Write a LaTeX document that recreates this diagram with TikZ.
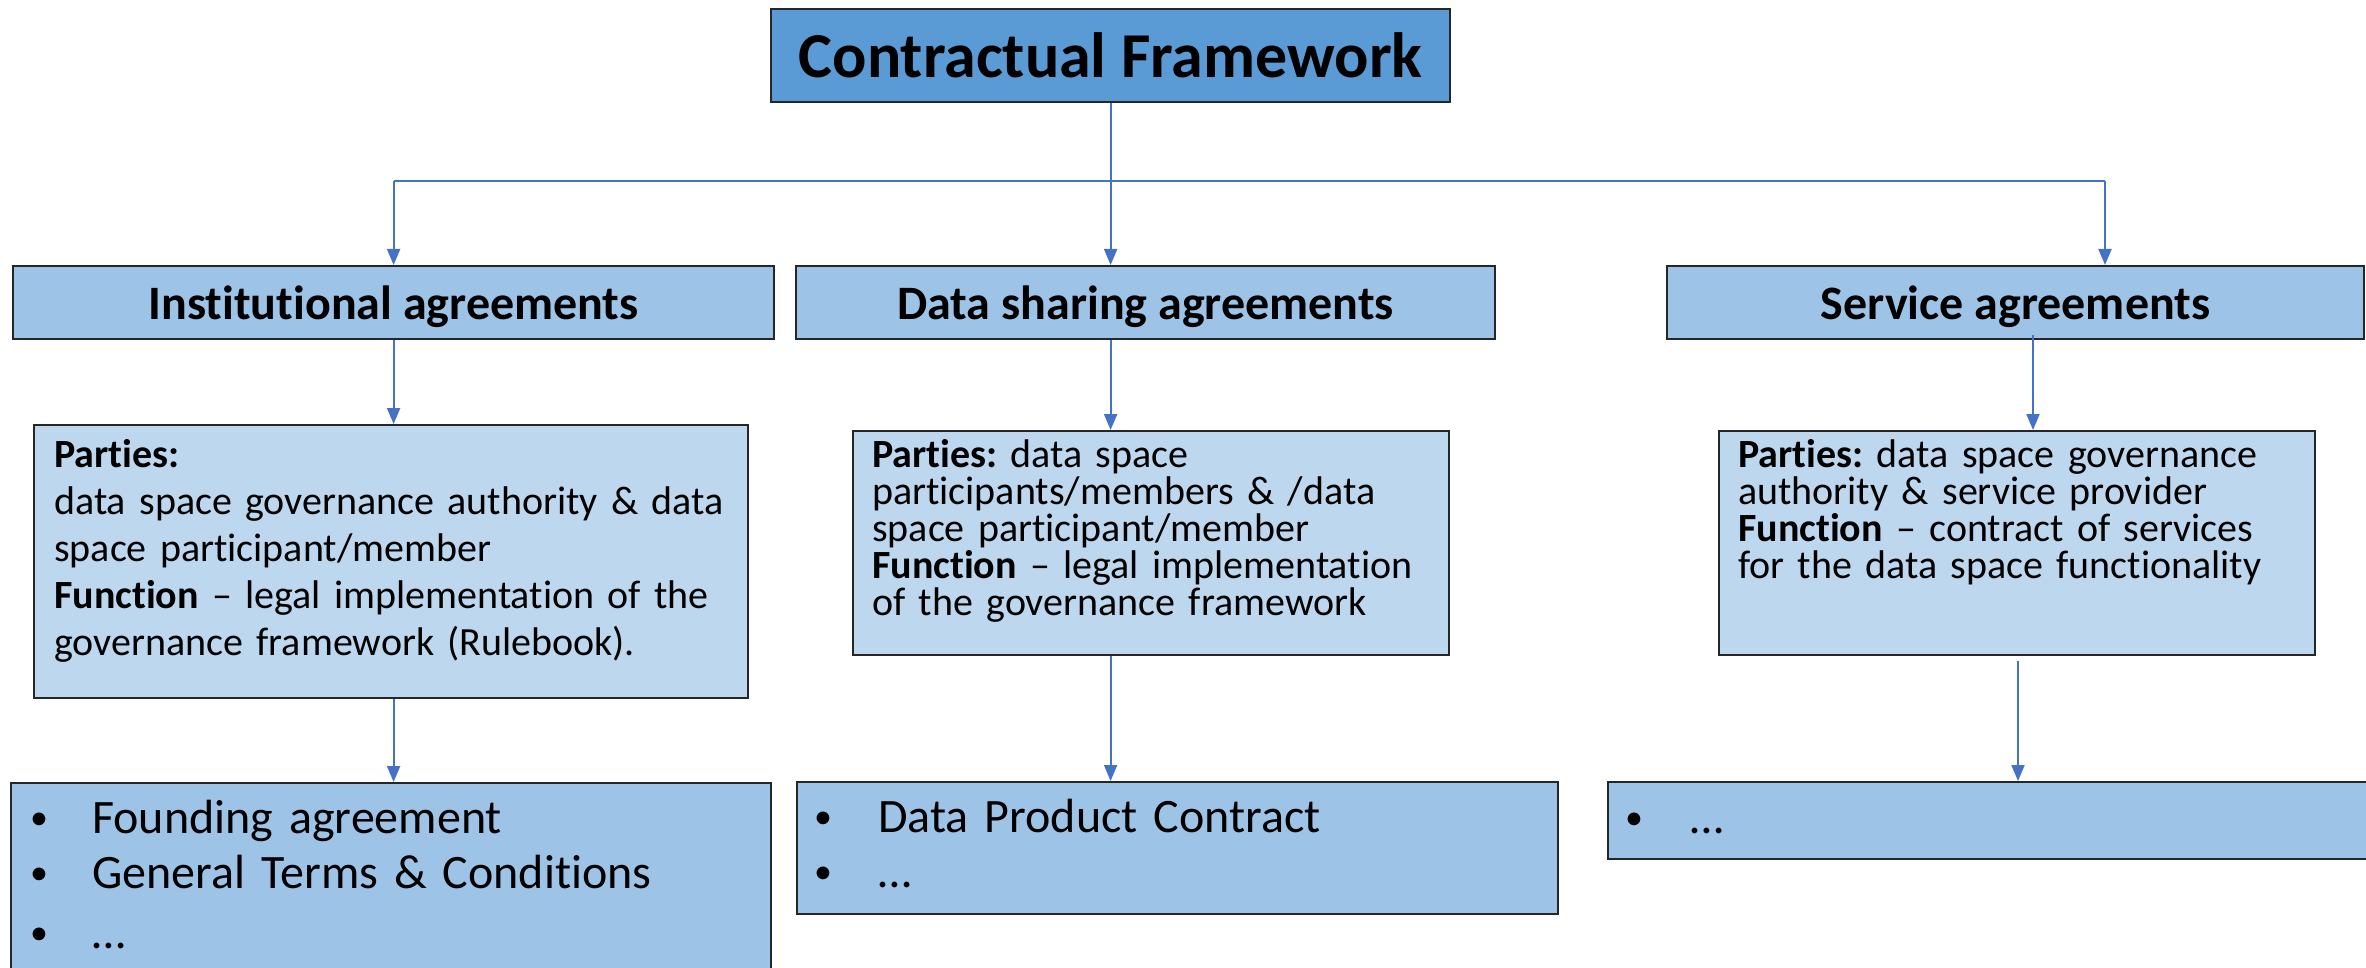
\documentclass[tikz,border=0pt]{standalone}
\usepackage{fontspec}
\setmainfont{Carlito}[Ligatures=NoCommon]
\usetikzlibrary{arrows.meta,calc}
\definecolor{topfill}{HTML}{5B9BD5}
\definecolor{midfill}{HTML}{9DC3E6}
\definecolor{bodyfill}{HTML}{BDD7EE}
\definecolor{arrowblue}{HTML}{4472C4}
\definecolor{edgecol}{HTML}{262626}
\newcommand{\blt}[1]{\makebox[#1][l]{\raisebox{4pt}{\fontsize{36}{36}\selectfont•}}}
\begin{document}
\frenchspacing
\begin{tikzpicture}[x=1pt,y=-1pt,
  box/.style={draw=edgecol,line width=2.2pt,rectangle,inner sep=0pt,anchor=north west},
  headtext/.style={font=\fontsize{48}{58}\selectfont\bfseries,text depth=0pt},
  bodytext/.style={inner sep=0pt,anchor=base west,align=left,text width=#1},
  listtext/.style={inner sep=0pt,anchor=base west,align=left,text width=#1,font=\fontsize{48}{55}\selectfont},
  conn/.style={draw=arrowblue,line width=2pt},
  arr/.style={conn,-{Triangle[length=16pt,width=13pt]}}
]
\useasboundingbox (0,0) rectangle (2366,968);
\clip (0,0) rectangle (2366,968);

% top
\node[box,fill=topfill,minimum width=679pt,minimum height=93pt,
      font=\fontsize{64}{77}\selectfont\bfseries] (top) at (770,8) {Contractual Framework};

% headings
\node[box,fill=midfill,minimum width=761pt,minimum height=73pt,headtext] (ia) at (12,265) {Institutional agreements};
\node[box,fill=midfill,minimum width=699pt,minimum height=73pt,headtext] (ds) at (795,265) {Data sharing agreements};
\node[box,fill=midfill,minimum width=697pt,minimum height=73pt,headtext] (sa) at (1666,265) {Service agreements};

% bodies
\node[box,fill=bodyfill,minimum width=714pt,minimum height=273pt] (ib) at (33,424) {};
\node[box,fill=bodyfill,minimum width=596pt,minimum height=224pt] (db) at (852,430) {};
\node[box,fill=bodyfill,minimum width=596pt,minimum height=224pt] (sb) at (1718,430) {};

\node[bodytext=680pt,font=\fontsize{40}{47}\selectfont] (ibt) at (54,467)
  {\textbf{Parties:}\\ data space governance authority \& data\\ space participant/member\\ \textbf{Function} – legal implementation of the\\ governance framework (Rulebook).};
\node[bodytext=570pt,font=\fontsize{40}{37}\selectfont] (dbt) at (872,467)
  {\textbf{Parties:} data space\\ participants/members \& /data\\ space participant/member\\ \textbf{Function} – legal implementation\\ of the governance framework};
\node[bodytext=570pt,font=\fontsize{40}{37}\selectfont] (sbt) at (1738,467)
  {\textbf{Parties:} data space governance\\ authority \& service provider\\ \textbf{Function} – contract of services\\ for the data space functionality};

% lists
\node[box,fill=midfill,minimum width=760pt,minimum height=240pt] (il) at (10,782) {};
\node[box,fill=midfill,minimum width=761pt,minimum height=132pt] (dl) at (796,781) {};
\node[box,fill=midfill,minimum width=780pt,minimum height=77pt] (sl) at (1607,781) {};

\node[listtext=700pt] (ilt) at (30,833)
  {\blt{62pt}Founding agreement\\ \blt{62pt}General Terms \& Conditions\\[5pt] \blt{62pt}…};
\node[listtext=700pt] (dlt) at (814,832)
  {\blt{64pt}Data Product Contract\\ \blt{64pt}…};
\node[listtext=700pt] (slt) at (1625,833)
  {\blt{65pt}…};

% connectors
\coordinate (bus) at (0,181);
\coordinate (s1) at ([xshift=439pt]sa.north west);
\coordinate (s2) at ([xshift=367pt]sa.south west);
\coordinate (s3) at ([xshift=300pt]sb.south west);

\draw[conn] (top.south) -- (top.south |- bus);
\draw[conn] (ia.north |- bus) -- (s1 |- bus);
\draw[arr] (ia.north |- bus) -- (ia.north);
\draw[arr] (top.south |- bus) -- (top.south |- ds.north);
\draw[arr] (s1 |- bus) -- (s1);

\draw[arr] (ia.south) -- (ia.south |- ib.north);
\draw[arr] (ds.south -| top.south) -- (db.north -| top.south);
\draw[arr] ([yshift=5pt]s2) -- (s2 |- sb.north);

\draw[arr] (ib.south -| ia.south) -- (il.north -| ia.south);
\draw[arr] (db.south -| top.south) -- (dl.north -| top.south);
\draw[arr] ([yshift=-5pt]s3) -- (s3 |- sl.north);
\end{tikzpicture}
\end{document}
